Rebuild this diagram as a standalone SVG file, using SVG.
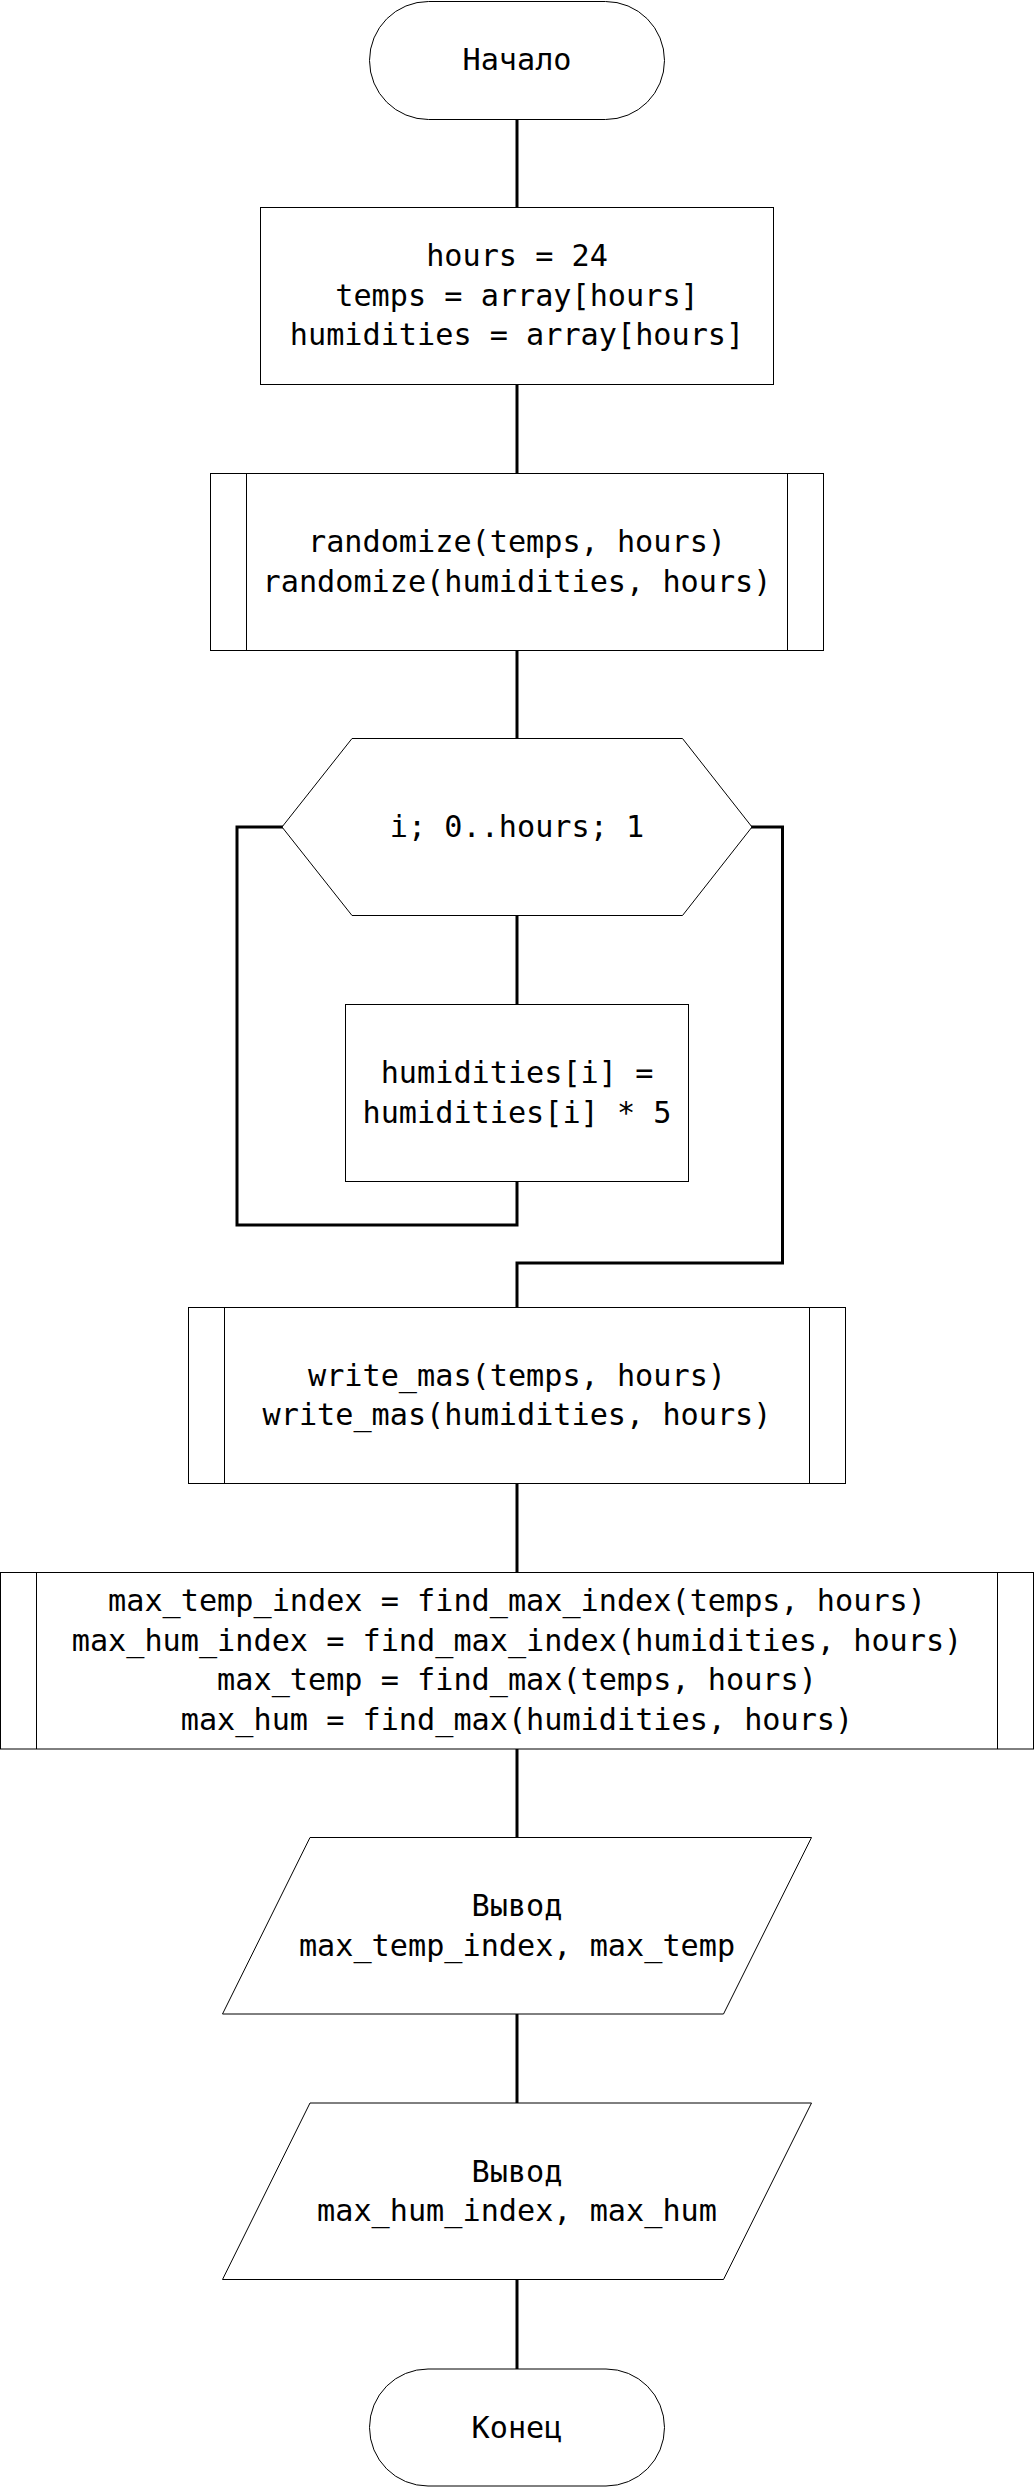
<svg xmlns="http://www.w3.org/2000/svg" width="1034" height="2488" viewBox="0 0 1034 2488">
<style>
.n{fill:#fff;stroke:#000;stroke-width:1}
.l{fill:none;stroke:#000;stroke-width:1}
.c{fill:none;stroke:#000;stroke-width:3;stroke-linejoin:miter;stroke-linecap:square}
text{font-family:"DejaVu Sans Mono","Liberation Mono",monospace;font-size:30.2px;fill:#000;text-anchor:middle}
</style>
<rect width="1034" height="2488" fill="#fff"/>
<g id="connectors">
<path class="c" d="M517,120V207"/>
<path class="c" d="M517,385V473"/>
<path class="c" d="M517,651V738"/>
<path class="c" d="M517,916V1004"/>
<path class="c" d="M517,1182V1225H237V827H282"/>
<path class="c" d="M752,827H782.5V1263H517V1307"/>
<path class="c" d="M517,1484V1572"/>
<path class="c" d="M517,1749V1837"/>
<path class="c" d="M517,2014V2103"/>
<path class="c" d="M517,2280V2369"/>
</g>
<g id="start">
<rect class="n" x="369.5" y="1.5" width="295" height="118" rx="59" ry="59"/>
<text x="517" y="70">Начало</text>
</g>
<g id="init">
<rect class="n" x="260.5" y="207.5" width="513" height="177"/>
<text x="517" y="266">hours = 24</text>
<text x="517" y="305.5">temps = array[hours]</text>
<text x="517" y="345">humidities = array[hours]</text>
</g>
<g id="randomize">
<rect class="n" x="210.5" y="473.5" width="613" height="177"/>
<line class="l" x1="246.5" y1="473.5" x2="246.5" y2="650.5"/>
<line class="l" x1="787.5" y1="473.5" x2="787.5" y2="650.5"/>
<text x="517" y="552">randomize(temps, hours)</text>
<text x="517" y="591.5">randomize(humidities, hours)</text>
</g>
<g id="loop">
<polygon class="n" points="352,738.5 682.5,738.5 752,827 682.5,915.5 352,915.5 282,827"/>
<text x="517" y="837">i; 0..hours; 1</text>
</g>
<g id="multiply">
<rect class="n" x="345.5" y="1004.5" width="343" height="177"/>
<text x="517" y="1083">humidities[i] =</text>
<text x="517" y="1122.5">humidities[i] * 5</text>
</g>
<g id="write">
<rect class="n" x="188.5" y="1307.5" width="657" height="176"/>
<line class="l" x1="224.5" y1="1307.5" x2="224.5" y2="1483.5"/>
<line class="l" x1="809.5" y1="1307.5" x2="809.5" y2="1483.5"/>
<text x="517" y="1385.5">write_mas(temps, hours)</text>
<text x="517" y="1425">write_mas(humidities, hours)</text>
</g>
<g id="find">
<rect class="n" x="0.5" y="1572.5" width="1033" height="176.5"/>
<line class="l" x1="36.5" y1="1572.5" x2="36.5" y2="1749"/>
<line class="l" x1="997.5" y1="1572.5" x2="997.5" y2="1749"/>
<text x="517" y="1611">max_temp_index = find_max_index(temps, hours)</text>
<text x="517" y="1650.5">max_hum_index = find_max_index(humidities, hours)</text>
<text x="517" y="1690">max_temp = find_max(temps, hours)</text>
<text x="517" y="1729.5">max_hum = find_max(humidities, hours)</text>
</g>
<g id="out1">
<polygon class="n" points="310,1837.5 811.5,1837.5 723.5,2014 222.5,2014"/>
<text x="517" y="1916">Вывод</text>
<text x="517" y="1955.5">max_temp_index, max_temp</text>
</g>
<g id="out2">
<polygon class="n" points="310,2103 811.5,2103 723.5,2279.5 222.5,2279.5"/>
<text x="517" y="2181.5">Вывод</text>
<text x="517" y="2221">max_hum_index, max_hum</text>
</g>
<g id="end">
<rect class="n" x="369.5" y="2369" width="295" height="117" rx="58.5" ry="58.5"/>
<text x="517" y="2438">Конец</text>
</g>
</svg>
